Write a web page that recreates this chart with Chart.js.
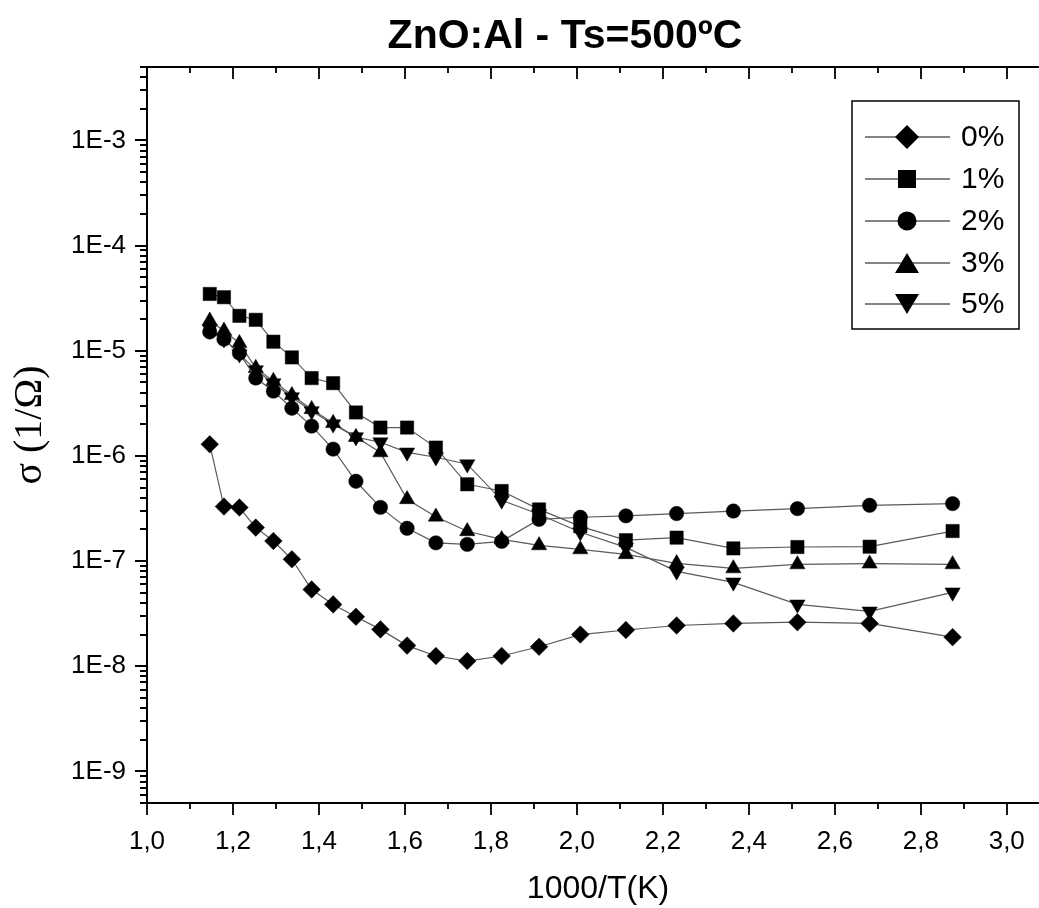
<!DOCTYPE html>
<html>
<head>
<meta charset="utf-8">
<script src="https://cdn.jsdelivr.net/npm/chart.js@4/dist/chart.umd.min.js"></script>
<style>
  html, body { margin: 0; padding: 0; background: #fff; }
  canvas { display: block; }
</style>
</head>
<body>
<canvas id="c" width="1039" height="908"></canvas>
<script>
// 1000/T (K^-1), measurement temperatures from 873 K down to 348 K
const invT = [1.146, 1.179, 1.215, 1.253, 1.294, 1.337, 1.383, 1.433, 1.486, 1.543, 1.605,
              1.672, 1.745, 1.825, 1.912, 2.008, 2.114, 2.232, 2.364, 2.513, 2.681, 2.874];

// Conductance sigma (1/Ohm) for each Al content
const sigma0 = [1.29e-6, 3.30e-7, 3.23e-7, 2.08e-7, 1.55e-7, 1.04e-7, 5.37e-8, 3.87e-8, 2.95e-8, 2.24e-8, 1.57e-8,
                1.25e-8, 1.12e-8, 1.25e-8, 1.53e-8, 2.00e-8, 2.21e-8, 2.44e-8, 2.55e-8, 2.62e-8, 2.55e-8, 1.89e-8];
const sigma1 = [3.47e-5, 3.23e-5, 2.15e-5, 1.97e-5, 1.22e-5, 8.65e-6, 5.50e-6, 4.92e-6, 2.59e-6, 1.86e-6, 1.86e-6,
                1.20e-6, 5.37e-7, 4.64e-7, 3.10e-7, 2.14e-7, 1.58e-7, 1.67e-7, 1.32e-7, 1.36e-7, 1.37e-7, 1.93e-7];
const sigma2 = [1.51e-5, 1.29e-5, 9.51e-6, 5.50e-6, 4.13e-6, 2.84e-6, 1.92e-6, 1.16e-6, 5.74e-7, 3.24e-7, 2.05e-7,
                1.49e-7, 1.44e-7, 1.54e-7, 2.49e-7, 2.61e-7, 2.69e-7, 2.83e-7, 2.99e-7, 3.15e-7, 3.39e-7, 3.52e-7];
const sigma3 = [1.93e-5, 1.55e-5, 1.18e-5, 6.84e-6, 5.15e-6, 3.78e-6, 2.78e-6, 2.05e-6, 1.51e-6, 1.08e-6, 3.87e-7,
                2.64e-7, 1.92e-7, 1.61e-7, 1.41e-7, 1.29e-7, 1.16e-7, 9.51e-8, 8.51e-8, 9.29e-8, 9.44e-8, 9.29e-8];
const sigma5 = [1.61e-5, 1.29e-5, 9.29e-6, 6.55e-6, 4.92e-6, 3.62e-6, 2.67e-6, 2.00e-6, 1.51e-6, 1.35e-6, 1.08e-6,
                9.72e-7, 8.34e-7, 3.78e-7, 2.79e-7, 1.88e-7, 1.35e-7, 7.98e-8, 6.27e-8, 3.87e-8, 3.32e-8, 5.04e-8];

const seriesLabels = ['0%', '1%', '2%', '3%', '5%'];
const xTicks = [1.0, 1.2, 1.4, 1.6, 1.8, 2.0, 2.2, 2.4, 2.6, 2.8, 3.0];
const yTicks = [1e-9, 1e-8, 1e-7, 1e-6, 1e-5, 1e-4, 1e-3];

const SANS = '"Liberation Sans", Arial, sans-serif';
const SERIF = '"Liberation Serif", "Times New Roman", serif';
const LINE = '#5a5a5a';

const markers = [
  { style: 'rectRot', radius: 8.8, rotation: 0 },
  { style: 'rect', radius: 9.4, rotation: 0 },
  { style: 'circle', radius: 7.2, rotation: 0 },
  { style: 'triangle', radius: 8.8, rotation: 0 },
  { style: 'triangle', radius: 8.8, rotation: 180 }
];

const allSeries = [sigma0, sigma1, sigma2, sigma3, sigma5];

const datasets = allSeries.map((vals, i) => ({
  label: seriesLabels[i],
  data: vals.map((v, k) => ({ x: invT[k], y: v })),
  showLine: true,
  borderColor: LINE,
  borderWidth: 1.2,
  pointStyle: markers[i].style,
  pointRadius: markers[i].radius,
  pointRotation: markers[i].rotation,
  pointBackgroundColor: '#000',
  pointBorderColor: '#000',
  pointBorderWidth: 0.5,
  pointHoverRadius: markers[i].radius
}));

// Draws a filled legend symbol centred on (x, y)
function legendSymbol(ctx, kind, x, y) {
  ctx.beginPath();
  if (kind === 0) {
    const r = 12;
    ctx.moveTo(x - r, y); ctx.lineTo(x, y - r); ctx.lineTo(x + r, y); ctx.lineTo(x, y + r);
  } else if (kind === 1) {
    const h = 9;
    ctx.rect(x - h, y - h, 2 * h, 2 * h);
  } else if (kind === 2) {
    ctx.arc(x, y, 9.5, 0, Math.PI * 2);
  } else if (kind === 3) {
    ctx.moveTo(x, y - 10); ctx.lineTo(x + 12, y + 10); ctx.lineTo(x - 12, y + 10);
  } else {
    ctx.moveTo(x, y + 10); ctx.lineTo(x + 12, y - 10); ctx.lineTo(x - 12, y - 10);
  }
  ctx.closePath();
  ctx.fill();
}

const framePlugin = {
  id: 'frame',
  afterDraw(chart) {
    const { ctx, chartArea: a } = chart;
    const xs = chart.scales.x, ys = chart.scales.y;
    ctx.save();
    ctx.strokeStyle = '#000';
    ctx.lineCap = 'butt';

    // axis lines
    ctx.lineWidth = 2;
    ctx.beginPath();
    ctx.moveTo(a.left, a.bottom); ctx.lineTo(a.left, a.top); ctx.lineTo(a.right, a.top);
    ctx.moveTo(a.left - 1, a.bottom); ctx.lineTo(a.right, a.bottom);
    ctx.stroke();

    // x ticks: outward at the bottom, inward at the top
    ctx.lineWidth = 1.8;
    ctx.beginPath();
    for (let k = 10; k <= 31; k++) {
      const px = Math.round(xs.getPixelForValue(k / 10));
      if (px > a.right) continue;
      const len = (k % 2 === 0) ? 12 : 6;
      ctx.moveTo(px, a.bottom); ctx.lineTo(px, a.bottom + len);
      ctx.moveTo(px, a.top); ctx.lineTo(px, a.top + len);
    }
    // y ticks (log): decades long, 2..9 short
    for (let e = -10; e <= -2; e++) {
      for (let m = 1; m <= 9; m++) {
        const v = m * Math.pow(10, e);
        if (v < ys.min * 0.999 || v > ys.max * 1.001) continue;
        const py = Math.round(ys.getPixelForValue(v));
        const len = (m === 1) ? 12 : 7;
        ctx.moveTo(a.left, py); ctx.lineTo(a.left - len, py);
      }
    }
    ctx.stroke();

    // titles
    ctx.fillStyle = '#000';
    ctx.textAlign = 'center';
    ctx.textBaseline = 'middle';
    ctx.font = 'bold 41px ' + SANS;
    ctx.fillText('ZnO:Al - Ts=500ºC', 565, 37);
    ctx.font = '32px ' + SANS;
    ctx.fillText('1000/T(K)', 598, 889);
    ctx.save();
    ctx.translate(30, 425);
    ctx.rotate(-Math.PI / 2);
    ctx.font = '40px ' + SERIF;
    ctx.fillText('σ (1/Ω)', 0, 0);
    ctx.restore();

    // legend
    ctx.lineWidth = 1.5;
    ctx.strokeRect(852, 101, 167, 228);
    const rowY = [137, 179, 221, 263, 304];
    ctx.font = '30px ' + SANS;
    ctx.textAlign = 'left';
    for (let i = 0; i < seriesLabels.length; i++) {
      const y = rowY[i];
      ctx.strokeStyle = LINE;
      ctx.lineWidth = 1.3;
      ctx.beginPath();
      ctx.moveTo(865, y); ctx.lineTo(950, y);
      ctx.stroke();
      ctx.fillStyle = '#000';
      legendSymbol(ctx, i, 907, y);
      ctx.fillText(seriesLabels[i], 961, y + 1);
    }
    ctx.restore();
  }
};

new Chart(document.getElementById('c'), {
  type: 'scatter',
  data: { datasets },
  options: {
    responsive: false,
    animation: false,
    devicePixelRatio: 1,
    layout: { autoPadding: false, padding: { top: 67, left: 0, right: 0, bottom: 0 } },
    plugins: { legend: { display: false }, tooltip: { enabled: false }, title: { display: false } },
    scales: {
      x: {
        type: 'linear',
        min: 1.0,
        max: 3.075,
        afterFit(scale) {
          scale.height = 105;
          scale.paddingLeft = 0;
          scale.paddingRight = 0;
        },
        afterBuildTicks(scale) { scale.ticks = xTicks.map(v => ({ value: v })); },
        border: { display: false },
        grid: { display: true, drawOnChartArea: false, color: 'rgba(0,0,0,0)', tickLength: 12 },
        ticks: {
          padding: 11,
          color: '#000',
          font: { family: SANS, size: 26 },
          maxRotation: 0,
          autoSkip: false,
          callback: v => v.toFixed(1).replace('.', ',')
        }
      },
      y: {
        type: 'logarithmic',
        min: 5e-10,
        max: 5e-3,
        afterFit(scale) {
          scale.width = 147;
          scale.paddingTop = 0;
          scale.paddingBottom = 0;
        },
        afterBuildTicks(scale) { scale.ticks = yTicks.map(v => ({ value: v })); },
        border: { display: false },
        grid: { display: true, drawOnChartArea: false, color: 'rgba(0,0,0,0)', tickLength: 12 },
        ticks: {
          padding: 9,
          color: '#000',
          font: { family: SANS, size: 26 },
          autoSkip: false,
          callback: v => '1E' + Math.round(Math.log10(v))
        }
      }
    }
  },
  plugins: [framePlugin]
});
</script>
</body>
</html>
